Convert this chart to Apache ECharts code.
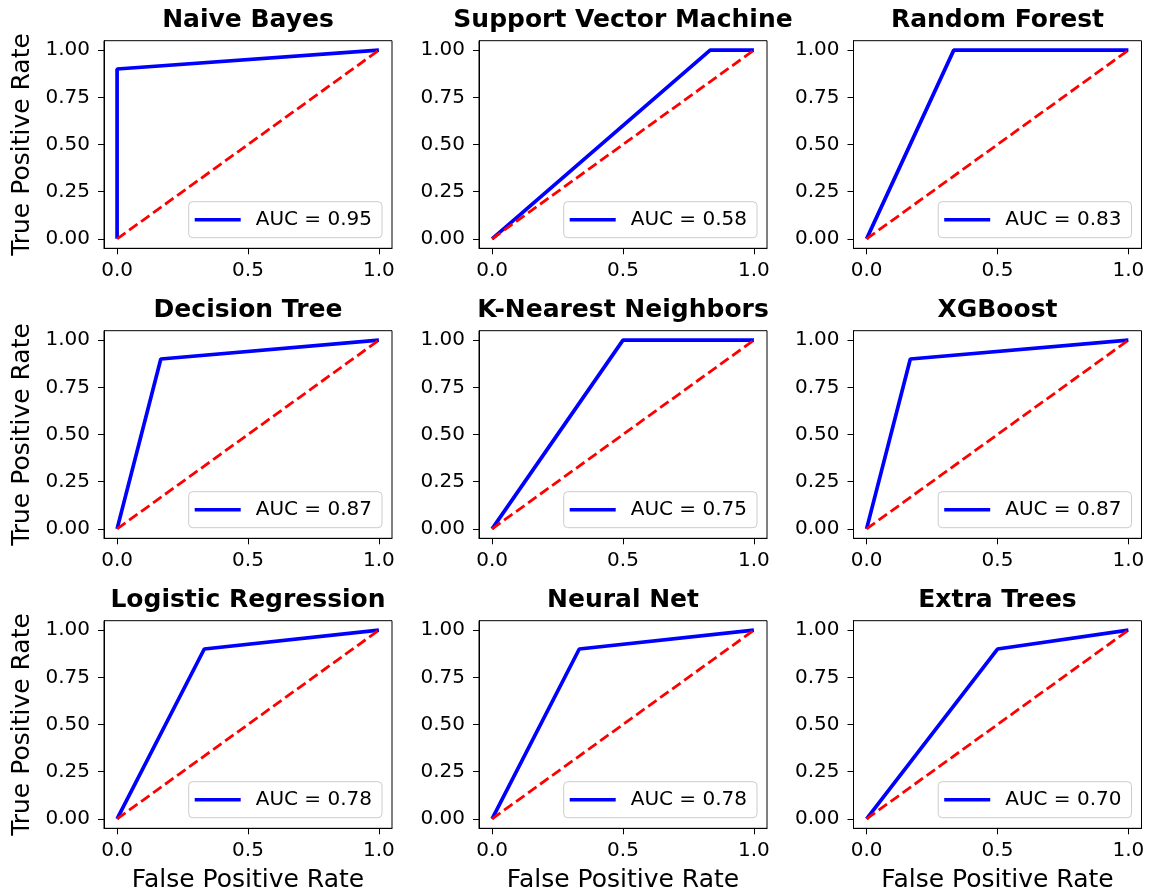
<!DOCTYPE html>
<html>
<head>
<meta charset="utf-8">
<script src="https://cdn.jsdelivr.net/npm/echarts@6/dist/echarts.min.js"></script>
<style>
  html, body { margin: 0; padding: 0; background: #fff; }
  #chart { width: 1160px; height: 895px; }
</style>
</head>
<body>
<div id="chart"></div>
<script>
// ROC curves, one panel per model
const MODELS = ['Naive Bayes', 'Support Vector Machine', 'Random Forest',
  'Decision Tree', 'K-Nearest Neighbors', 'XGBoost',
  'Logistic Regression', 'Neural Net', 'Extra Trees']
const FPR = [[0, 0, 1], [0, 0.833, 1], [0, 0.333, 1],
  [0, 0.167, 1], [0, 0.5, 1], [0, 0.167, 1],
  [0, 0.333, 1], [0, 0.333, 1], [0, 0.5, 1]]
const TPR = [[0, 0.9, 1], [0, 1, 1], [0, 1, 1],
  [0, 0.9, 1], [0, 1, 1], [0, 0.9, 1],
  [0, 0.9, 1], [0, 0.9, 1], [0, 0.9, 1]]
const AUC = ['0.95', '0.58', '0.83', '0.87', '0.75', '0.87', '0.78', '0.78', '0.70']
const CHANCE_X = [0, 1]
const CHANCE_Y = [0, 1]
const X_TICKS = [0, 0.5, 1]
const Y_TICKS = [0, 0.25, 0.5, 0.75, 1]
const X_LABEL = 'False Positive Rate'
const Y_LABEL = 'True Positive Rate'

const FONT = 'DejaVu Sans'
const W = 1160, H = 895
const COL_LEFT = [104, 479, 853.5]
const ROW_TOP = [40.7, 330.7, 620.7]
const PW = 288, PH = 207.6

const grid = [], xAxis = [], yAxis = [], series = [], legend = [], graphic = []

MODELS.forEach((name, i) => {
  const r = Math.floor(i / 3), c = i % 3
  const left = COL_LEFT[c], top = ROW_TOP[r]
  grid.push({
    left, top, width: PW, height: PH,
    show: true, borderColor: '#000', borderWidth: 1, backgroundColor: 'transparent',
  })
  xAxis.push({
    type: 'value', gridIndex: i, min: -0.05, max: 1.05,
    axisLine: { show: true, onZero: false, lineStyle: { color: '#000', width: 1 } },
    axisTick: { show: true, length: 6, customValues: X_TICKS, lineStyle: { color: '#000' } },
    axisLabel: {
      customValues: X_TICKS, margin: 12, fontFamily: FONT, fontSize: 20, color: '#000',
      formatter: (v) => Number(v).toFixed(1),
    },
    splitLine: { show: false },
  })
  yAxis.push({
    type: 'value', gridIndex: i, min: -0.05, max: 1.05,
    axisLine: { show: true, onZero: false, lineStyle: { color: '#000', width: 1 } },
    axisTick: { show: true, length: 6, customValues: Y_TICKS, lineStyle: { color: '#000' } },
    axisLabel: {
      customValues: Y_TICKS, margin: 14, fontFamily: FONT, fontSize: 20, color: '#000',
      formatter: (v) => Number(v).toFixed(2),
    },
    splitLine: { show: false },
  })
  const label = `AUC = ${AUC[i]}`
  series.push({
    name: label, type: 'line', xAxisIndex: i, yAxisIndex: i,
    data: FPR[i].map((x, k) => [x, TPR[i][k]]),
    symbol: 'none', smooth: false, animation: false,
    lineStyle: { color: '#0000ff', width: 3.7 },
    itemStyle: { color: '#0000ff' },
  })
  series.push({
    name: '_chance' + i, type: 'line', xAxisIndex: i, yAxisIndex: i,
    data: CHANCE_X.map((x, k) => [x, CHANCE_Y[k]]),
    symbol: 'none', animation: false,
    lineStyle: { color: '#ff0000', width: 2.8, type: [10.3, 4.5] },
  })
  legend.push({
    data: [label],
    right: W - (left + PW - 10),
    bottom: H - (top + PH - 10.6),
    orient: 'vertical',
    icon: 'rect', itemWidth: 46, itemHeight: 3.5, itemGap: 0,
    padding: [8, 10, 8, 6],
    borderColor: '#cccccc', borderWidth: 1, borderRadius: 4,
    backgroundColor: 'rgba(255,255,255,0.8)',
    selectedMode: false,
    textStyle: { fontFamily: FONT, fontSize: 20, color: '#000', padding: [0, 0, 0, 10] },
  })
  graphic.push({
    type: 'text', x: left + PW / 2, y: top - 20,
    style: {
      text: name, fill: '#000', font: `bold 25px "${FONT}"`,
      textAlign: 'center', textVerticalAlign: 'middle',
    },
  })
  if (c === 0) {
    graphic.push({
      type: 'text', x: 22, y: top + PH / 2, rotation: Math.PI / 2,
      style: {
        text: Y_LABEL, fill: '#000', font: `25px "${FONT}"`,
        textAlign: 'center', textVerticalAlign: 'middle',
      },
    })
  }
  if (r === 2) {
    graphic.push({
      type: 'text', x: left + PW / 2, y: 880,
      style: {
        text: X_LABEL, fill: '#000', font: `25px "${FONT}"`,
        textAlign: 'center', textVerticalAlign: 'middle',
      },
    })
  }
})

const chart = echarts.init(document.getElementById('chart'))
chart.setOption({
  animation: false,
  backgroundColor: '#fff',
  grid, xAxis, yAxis, series, legend, graphic,
})
</script>
</body>
</html>
